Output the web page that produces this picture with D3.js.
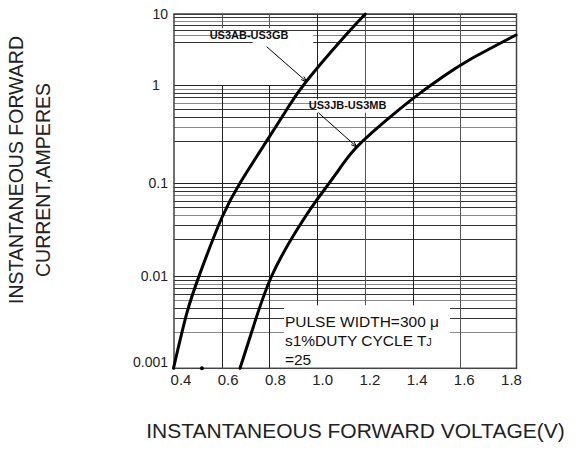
<!DOCTYPE html>
<html><head><meta charset="utf-8">
<script src="https://cdn.jsdelivr.net/npm/d3@7"></script>
<style>html,body{margin:0;padding:0;background:#fff}</style>
</head><body>
<svg id="c" width="579" height="451"></svg>
<script>
// ---- data ----
const xTicks = [0.4, 0.6, 0.8, 1.0, 1.2, 1.4, 1.6, 1.8];
const xTickLabels = ["0.4", "0.6", "0.8", "1.0", "1.2", "1.4", "1.6", "1.8"];
const yTicks = [0.001, 0.01, 0.1, 1, 10];
const yTickLabels = ["0.001", "0.01", "0.1", "1", "10"];
const minorMult = [9, 8, 7, 6, 5, 4, 3, 2];
const topMinorMult = [9, 8, 7, 6, 5, 4];
const seriesNames = ["US3AB-US3GB", "US3JB-US3MB"];
const voltsA = [0.4, 0.455, 0.51, 0.6, 0.677, 0.733, 0.796, 0.873, 0.955, 1.109, 1.2];
const ampsA  = [0.001, 0.0034, 0.0105, 0.0365, 0.1, 0.142, 0.215, 0.49, 1.11, 4.59, 10];
const voltsB = [0.677, 0.733, 0.81, 0.916, 1.0, 1.079, 1.165, 1.317, 1.431, 1.536, 1.635, 1.8];
const ampsB  = [0.001, 0.00232, 0.01, 0.0258, 0.0612, 0.116, 0.181, 0.427, 0.792, 1.37, 2.29, 5.06];
const noteLines = ["PULSE WIDTH=300 μ", "s1%DUTY CYCLE T", "=25"];
const yTitleLines = ["INSTANTANEOUS FORWARD", "CURRENT,AMPERES"];
const xTitle = "INSTANTANEOUS FORWARD VOLTAGE(V)";

// ---- layout ----
const FONT = "'Liberation Sans', Arial, Helvetica, sans-serif";
const svg = d3.select("#c");
const x = d3.scaleLinear().domain(xTicks)
  .range([173.5, 221.7, 269.3, 316.7, 365.3, 412.7, 460.3, 516]);
const y = d3.scaleLog().domain([0.001, 0.002, 0.01, 0.02, 0.1, 0.2, 1, 10])
  .range([368.3, 331.9, 276, 238.9, 183, 140.9, 85, 14]);
const xLab = d3.scaleLinear().domain([0.4, 1.8]).range([181, 511.5]);
const snap = v => Math.round(v) + 0.5;
const X0 = x(0.4), X1 = x(1.8), Y0 = y(0.001), Y1 = y(10);

const grid = svg.append("g");
// horizontal minor lines
const minorVals = [];
[0.001, 0.01, 0.1].forEach(d => minorMult.forEach(m => minorVals.push(m * d)));
topMinorMult.forEach(m => minorVals.push(m));
grid.selectAll("line.hm").data(minorVals).join("line")
  .attr("x1", X0).attr("x2", X1)
  .attr("y1", d => snap(y(d))).attr("y2", d => snap(y(d)))
  .attr("stroke", (d, i) => i % 3 === 1 ? "#888" : "#333").attr("stroke-width", 1);
grid.selectAll("line.hM").data(yTicks).join("line")
  .attr("x1", X0).attr("x2", X1)
  .attr("y1", d => snap(y(d))).attr("y2", d => snap(y(d)))
  .attr("stroke", "#222").attr("stroke-width", 1);

// vertical grid lines (0.6 and 0.8 have a gap in the upper decade)
const vSegs = [];
xTicks.slice(1, -1).forEach(v => {
  if (v < 0.9) { vSegs.push([v, 0.001, 1]); vSegs.push([v, 6.3, 10]); }
  else vSegs.push([v, 0.001, 10]);
});
grid.selectAll("line.v").data(vSegs).join("line")
  .attr("x1", d => snap(x(d[0]))).attr("x2", d => snap(x(d[0])))
  .attr("y1", d => y(d[1])).attr("y2", d => y(d[2]))
  .attr("stroke", (d, i) => i % 2 ? "#555" : "#222").attr("stroke-width", 1);

// white masks for annotations
const masks = [
  [0.73, 5.2, 0.985, 3.4],   // label A
  [1.0, 0.66, 1.37, 0.45],   // label B
  [0.862, 0.0043, 1.557, 0.001] // note
];
svg.selectAll("rect.m").data(masks).join("rect")
  .attr("x", d => x(d[0])).attr("y", d => y(d[1]))
  .attr("width", d => x(d[2]) - x(d[0])).attr("height", d => y(d[3]) - y(d[1]))
  .attr("fill", "#fff");

// frame
svg.append("rect").attr("x", snap(X0) - 0.5).attr("y", snap(Y1) - 0.5)
  .attr("width", X1 - X0).attr("height", Y0 - Y1)
  .attr("fill", "none").attr("stroke", "#444").attr("stroke-width", 1.5);
svg.append("circle").attr("cx", x(0.518)).attr("cy", Y0).attr("r", 2).attr("fill", "#000");

// curves
const line = d3.line().x(d => x(d[0])).y(d => y(d[1])).curve(d3.curveNatural);
[[voltsA, ampsA], [voltsB, ampsB]].forEach(([vs, as]) => {
  svg.append("path").datum(vs.map((v, i) => [v, as[i]]))
    .attr("d", line).attr("fill", "none").attr("stroke", "#000")
    .attr("stroke-width", 3).attr("stroke-linecap", "round");
});

// labels and arrows
const labels = [
  {t: seriesNames[0], v: 0.715, a: 4.45, from: [0.789, 3.46], to: [0.958, 1.11]},
  {t: seriesNames[1], v: 1.127, a: 0.50, from: [1.007, 0.45], to: [1.165, 0.181]}
];
svg.selectAll("text.lab").data(labels).join("text")
  .attr("x", d => x(d.v)).attr("y", d => y(d.a))
  .attr("text-anchor", "middle").attr("font-family", FONT)
  .attr("font-weight", "bold").attr("font-size", 11).attr("fill", "#111")
  .text(d => d.t);
svg.selectAll("line.arr").data(labels).join("line")
  .attr("x1", d => x(d.from[0])).attr("y1", d => y(d.from[1]))
  .attr("x2", d => x(d.to[0])).attr("y2", d => y(d.to[1]))
  .attr("stroke", "#000").attr("stroke-width", 1);
svg.selectAll("path.head").data(labels).join("path")
  .attr("d", d => {
    const x2 = x(d.to[0]), y2 = y(d.to[1]);
    const ang = Math.atan2(y2 - y(d.from[1]), x2 - x(d.from[0]));
    const L = 6, w = 0.35;
    return `M${x2 - L * Math.cos(ang - w)},${y2 - L * Math.sin(ang - w)}L${x2},${y2}L${x2 - L * Math.cos(ang + w)},${y2 - L * Math.sin(ang + w)}`;
  })
  .attr("fill", "none").attr("stroke", "#000").attr("stroke-width", 1);

// note text
const note = svg.append("text").attr("font-family", FONT).attr("font-size", 15.5).attr("fill", "#111");
noteLines.forEach((t, i) => {
  note.append("tspan").attr("x", x(0.866)).attr("y", y(0.00228) + i * 19).text(t);
  if (i === 1) note.append("tspan").attr("font-size", 10.5).text("J");
});

// tick labels
svg.selectAll("text.xt").data(xTicks).join("text")
  .attr("x", d => xLab(d)).attr("y", 384.5)
  .attr("text-anchor", "middle").attr("font-family", FONT).attr("font-size", 15)
  .attr("fill", "#222").text((d, i) => xTickLabels[i]);
svg.selectAll("text.yt").data(yTicks).join("text")
  .attr("x", d => d === 1 ? 152 : 168)
  .attr("y", d => y(d) + (d === 0.001 ? -1.5 : 5))
  .attr("text-anchor", d => d === 1 ? "start" : "end")
  .attr("font-family", FONT).attr("font-size", 14).attr("fill", "#222")
  .text((d, i) => yTickLabels[i]);

// axis titles
yTitleLines.forEach((t, i) => {
  svg.append("text").attr("transform", `translate(${23 + i * 27},${170 + i * 10}) rotate(-90)`)
    .attr("text-anchor", "middle").attr("font-family", FONT).attr("font-size", 19.5)
    .attr("fill", "#222").text(t);
});
svg.append("text").attr("x", 355.5).attr("y", 438).attr("text-anchor", "middle")
  .attr("font-family", FONT).attr("font-size", 21).attr("fill", "#222").text(xTitle);
</script>
</body></html>
